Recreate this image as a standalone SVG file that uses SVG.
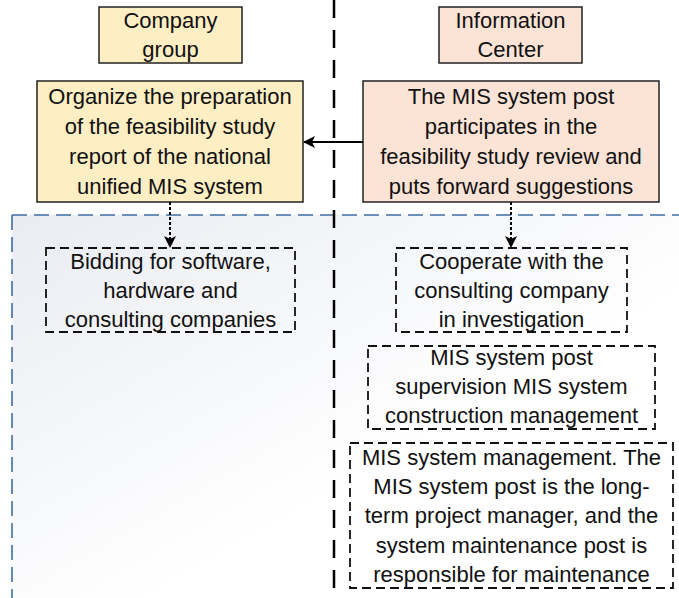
<svg xmlns="http://www.w3.org/2000/svg" width="679" height="598" viewBox="0 0 679 598">
<defs>
<linearGradient id="bg" x1="0" y1="0" x2="1" y2="1">
<stop offset="0" stop-color="#e9ecf2"/>
<stop offset="0.6" stop-color="#ffffff"/>
</linearGradient>
<marker id="ah" viewBox="0 0 12 12" refX="11" refY="6" markerWidth="12" markerHeight="12" markerUnits="userSpaceOnUse" orient="auto">
<path d="M0,0 L12,6 L0,12 L3,6 Z" fill="#000"/>
</marker>
</defs>
<style>
.t{font-family:"Liberation Sans",Arial,sans-serif;font-size:22px;fill:#111;text-anchor:middle}
.solid{stroke:#222;stroke-width:1.5}
.yel{fill:#fdeec4}
.pch{fill:#fbe3d5}
.dbox{fill:none;stroke:#111;stroke-width:1.8;stroke-dasharray:9 5}
.dot{stroke:#000;stroke-width:2;stroke-dasharray:3 2;fill:none}
</style>
<rect id="region" x="12" y="215" width="667" height="383" fill="url(#bg)"/>
<g id="region-border" fill="none" stroke="#3f6f9e" stroke-width="1.6" stroke-dasharray="15 7">
<line x1="12" y1="215" x2="679" y2="215"/>
<line x1="12" y1="215" x2="12" y2="598"/>
</g>
<line id="lane-divider" x1="334" y1="0" x2="334" y2="598" stroke="#000" stroke-width="2.5" stroke-dasharray="18 12"/>
<g class="t">
<g id="company-group">
<rect class="solid yel" x="99" y="7" width="143" height="56"/>
<text x="170.5" y="28">Company</text>
<text x="170.5" y="57">group</text>
</g>
<g id="information-center">
<rect class="solid pch" x="439" y="7" width="143" height="56"/>
<text x="510.5" y="28">Information</text>
<text x="510.5" y="57">Center</text>
</g>
<g id="organize">
<rect class="solid yel" x="37" y="81" width="266" height="121"/>
<text x="170" y="104">Organize the preparation</text>
<text x="170" y="134">of the feasibility study</text>
<text x="170" y="164">report of the national</text>
<text x="170" y="194">unified MIS system</text>
</g>
<g id="mis-review">
<rect class="solid pch" x="363" y="81" width="296" height="121"/>
<text x="511" y="104">The MIS system post</text>
<text x="511" y="134">participates in the</text>
<text x="511" y="164">feasibility study review and</text>
<text x="511" y="194">puts forward suggestions</text>
</g>
<g id="bidding">
<rect class="dbox" x="46" y="248" width="249" height="84"/>
<text x="170.5" y="269">Bidding for software,</text>
<text x="170.5" y="298">hardware and</text>
<text x="170.5" y="327">consulting companies</text>
</g>
<g id="cooperate">
<rect class="dbox" x="396" y="248" width="231" height="84"/>
<text x="511.5" y="269">Cooperate with the</text>
<text x="511.5" y="298">consulting company</text>
<text x="511.5" y="327">in investigation</text>
</g>
<g id="supervision">
<rect class="dbox" x="368" y="346" width="287" height="83"/>
<text x="511.5" y="365">MIS system post</text>
<text x="511.5" y="394">supervision MIS system</text>
<text x="511.5" y="423">construction management</text>
</g>
<g id="management">
<rect class="dbox" x="350" y="443" width="323" height="145"/>
<text x="511.5" y="465">MIS system management. The</text>
<text x="511.5" y="494">MIS system post is the long-</text>
<text x="511.5" y="523">term project manager, and the</text>
<text x="511.5" y="553">system maintenance post is</text>
<text x="511.5" y="582">responsible for maintenance</text>
</g>
</g>
<g id="connectors">
<line x1="363" y1="142" x2="304" y2="142" stroke="#000" stroke-width="2" marker-end="url(#ah)"/>
<line class="dot" x1="170" y1="202" x2="170" y2="247" marker-end="url(#ah)"/>
<line class="dot" x1="511" y1="202" x2="511" y2="247" marker-end="url(#ah)"/>
</g>
</svg>
